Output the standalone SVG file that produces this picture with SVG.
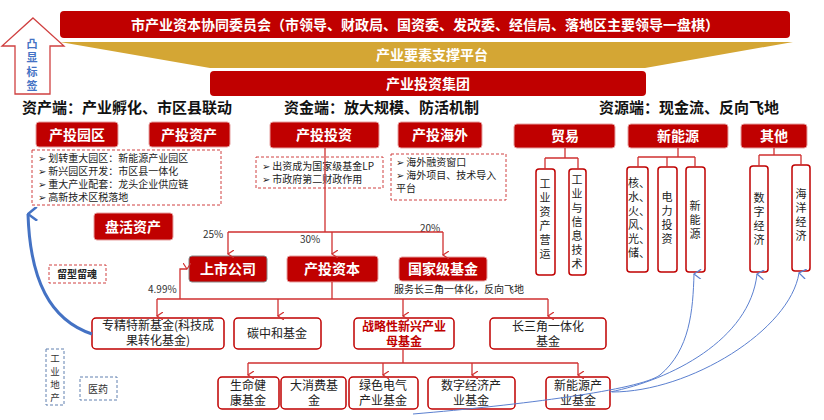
<svg xmlns="http://www.w3.org/2000/svg" width="824" height="420" viewBox="0 0 824 420">
<defs>
<style>
text{font-family:"Noto Sans CJK SC","Liberation Sans",sans-serif}
.rb{fill:#c00000;stroke:#e6a0a0;stroke-width:1}
.wt{fill:#fff;font-weight:bold;font-size:14px;text-anchor:middle}
.hd{fill:#111;font-weight:bold;font-size:15px}
.bl{fill:#222;font-size:10px}
.db{fill:none;stroke:#d04040;stroke-dasharray:3,2;stroke-width:1}
.ob{fill:#fff;stroke:#c00000;stroke-width:1.5}
.bt{fill:#222;font-size:12px;text-anchor:middle}
.vt{fill:#222;font-size:11px;text-anchor:middle}
.ln{fill:none;stroke:#d03030;stroke-width:1.3}
.bc{fill:none;stroke:#5b80d0;stroke-width:1}
</style>
<marker id="ar" markerWidth="8" markerHeight="8" refX="4" refY="6" orient="auto-start-reverse" markerUnits="userSpaceOnUse"><path d="M0,0 L4,6 L8,0" fill="none" stroke="#d03030" stroke-width="1.2"/></marker>
<marker id="ab" markerWidth="10" markerHeight="10" refX="5" refY="1" orient="auto" markerUnits="userSpaceOnUse"><path d="M0,8 L5,1 L10,8" fill="none" stroke="#5b80d0" stroke-width="1.2"/></marker>
<marker id="abb" markerWidth="14" markerHeight="14" refX="7" refY="1" orient="auto" markerUnits="userSpaceOnUse"><path d="M0,10 L7,1 L14,10" fill="none" stroke="#4472c4" stroke-width="2.5"/></marker>
</defs>

<g id="banner">
<rect x="60" y="11" width="730" height="27" rx="4" fill="#c00000"/>
<text x="425" y="30" class="wt" font-size="15">市产业资本协同委员会（市领导、财政局、国资委、发改委、经信局、落地区主要领导一盘棋）</text>
<polygon points="60,42 793,42 645,68 210,68" fill="#d4a634"/>
<text x="432" y="60" class="wt">产业要素支撑平台</text>
<rect x="210" y="71" width="436" height="25" rx="4" fill="#c00000"/>
<text x="428" y="89" class="wt">产业投资集团</text>
</g>

<g id="tag">
<polygon points="33,18 64,46 50,46 50,94 15,94 15,46 2,46" fill="#fff" stroke="#d04040" stroke-width="1.3"/>
<text x="32" y="48" fill="#4472c4" font-weight="bold" font-size="11" text-anchor="middle">凸</text>
<text x="32" y="62" fill="#4472c4" font-weight="bold" font-size="11" text-anchor="middle">显</text>
<text x="32" y="76" fill="#4472c4" font-weight="bold" font-size="11" text-anchor="middle">标</text>
<text x="32" y="90" fill="#4472c4" font-weight="bold" font-size="11" text-anchor="middle">签</text>
</g>

<g id="headers">
<text x="22" y="113" class="hd">资产端：产业孵化、市区县联动</text>
<text x="284" y="113" class="hd">资金端：放大规模、防活机制</text>
<text x="599" y="113" class="hd">资源端：现金流、反向飞地</text>
</g>

<g id="asset">
<rect x="36" y="122" width="82" height="25" rx="3" class="rb"/><text x="77" y="140" class="wt">产投园区</text>
<rect x="149" y="122" width="81" height="25" rx="3" class="rb"/><text x="189" y="140" class="wt">产投资产</text>
<rect x="32" y="150" width="189" height="55" class="db"/>
<text x="38" y="162" class="bl">➢ 划转重大园区：新能源产业园区</text>
<text x="38" y="175" class="bl">➢ 新兴园区开发：市区县一体化</text>
<text x="38" y="188" class="bl">➢ 重大产业配套：龙头企业供应链</text>
<text x="38" y="201" class="bl">➢  高新技术区税落地</text>
<rect x="94" y="213" width="79" height="27" rx="3" class="rb"/><text x="133" y="232" class="wt">盘活资产</text>
</g>

<g id="capital">
<rect x="270" y="122" width="109" height="26" rx="3" class="rb"/><text x="324" y="140" class="wt">产投投资</text>
<rect x="398" y="122" width="84" height="26" rx="3" class="rb"/><text x="440" y="140" class="wt">产投海外</text>
<rect x="256" y="157" width="127" height="31" class="db"/>
<text x="262" y="170" class="bl">➢ 出资成为国家级基金LP</text>
<text x="262" y="183" class="bl">➢ 市政府第二财政作用</text>
<rect x="391" y="154" width="115" height="46" class="db"/>
<text x="396" y="166" class="bl">➢ 海外融资窗口</text>
<text x="396" y="179" class="bl">➢ 海外项目、技术导入</text>
<text x="396" y="192" class="bl">平台</text>
</g>

<g id="l1">
<rect x="189" y="256" width="78" height="26" rx="3" fill="#c00000" stroke="#888"/><text x="228" y="274" class="wt">上市公司</text>
<rect x="287" y="256" width="91" height="26" rx="3" class="rb"/><text x="332" y="274" class="wt">产投资本</text>
<rect x="399" y="257" width="88" height="24" rx="3" class="rb"/><text x="443" y="274" class="wt">国家级基金</text>
<text x="394" y="293" fill="#222" font-size="10">服务长三角一体化，反向飞地</text>
</g>

<g id="l2">
<rect x="92" y="318" width="132" height="31" rx="4" class="ob"/><text x="158" y="330" class="bt" font-size="11">专精特新基金(科技成</text><text x="158" y="345" class="bt" font-size="11">果转化基金)</text>
<rect x="234" y="318" width="87" height="31" rx="4" class="ob"/><text x="277" y="338" class="bt">碳中和基金</text>
<rect x="354" y="318" width="100" height="31" rx="4" class="ob"/><text x="404" y="331" class="bt" style="fill:#c00000" font-weight="bold">战略性新兴产业</text><text x="404" y="346" class="bt" style="fill:#c00000" font-weight="bold">母基金</text>
<rect x="490" y="318" width="116" height="31" rx="4" class="ob"/><text x="548" y="331" class="bt">长三角一体化</text><text x="548" y="346" class="bt">基金</text>
</g>

<g id="l3">
<rect x="218" y="377" width="61" height="32" rx="4" class="ob"/><text x="248" y="390" class="bt">生命健</text><text x="248" y="405" class="bt">康基金</text>
<rect x="281" y="377" width="65" height="32" rx="4" class="ob"/><text x="314" y="390" class="bt">大消费基</text><text x="314" y="405" class="bt">金</text>
<rect x="349" y="377" width="69" height="32" rx="4" class="ob"/><text x="383" y="390" class="bt">绿色电气</text><text x="383" y="405" class="bt">产业基金</text>
<rect x="428" y="377" width="87" height="32" rx="4" class="ob"/><text x="471" y="390" class="bt">数字经济产</text><text x="471" y="405" class="bt">业基金</text>
<rect x="546" y="377" width="64" height="32" rx="4" class="ob"/><text x="578" y="390" class="bt">新能源产</text><text x="578" y="405" class="bt">业基金</text>
</g>

<g id="resource">
<rect x="514" y="124" width="101" height="24" rx="3" class="rb"/><text x="565" y="141" class="wt">贸易</text>
<rect x="628" y="124" width="100" height="24" rx="3" class="rb"/><text x="678" y="141" class="wt">新能源</text>
<rect x="741" y="124" width="66" height="24" rx="3" class="rb"/><text x="774" y="141" class="wt">其他</text>
<rect x="536" y="169" width="19" height="106" rx="3" class="ob"/>
<text class="vt"><tspan x="545" y="188">工</tspan><tspan x="545" y="202">业</tspan><tspan x="545" y="216">资</tspan><tspan x="545" y="230">产</tspan><tspan x="545" y="244">营</tspan><tspan x="545" y="258">运</tspan></text>
<rect x="569" y="169" width="17" height="106" rx="3" class="ob"/>
<text class="vt"><tspan x="577" y="184">工</tspan><tspan x="577" y="198">业</tspan><tspan x="577" y="212">与</tspan><tspan x="577" y="226">信</tspan><tspan x="577" y="240">息</tspan><tspan x="577" y="254">技</tspan><tspan x="577" y="268">术</tspan></text>
<rect x="627" y="167" width="21" height="105" rx="3" class="ob"/>
<text class="vt"><tspan x="639" y="187">核、</tspan><tspan x="639" y="201">水、</tspan><tspan x="639" y="215">火、</tspan><tspan x="639" y="229">风、</tspan><tspan x="639" y="243">光、</tspan><tspan x="639" y="257">储、</tspan></text>
<rect x="658" y="167" width="19" height="105" rx="3" class="ob"/>
<text class="vt"><tspan x="667" y="201">电</tspan><tspan x="667" y="215">力</tspan><tspan x="667" y="229">投</tspan><tspan x="667" y="243">资</tspan></text>
<rect x="686" y="167" width="19" height="105" rx="3" class="ob"/>
<text class="vt"><tspan x="695" y="210">新</tspan><tspan x="695" y="224">能</tspan><tspan x="695" y="238">源</tspan></text>
<rect x="750" y="166" width="18" height="106" rx="3" class="ob"/>
<text class="vt"><tspan x="759" y="202">数</tspan><tspan x="759" y="216">字</tspan><tspan x="759" y="230">经</tspan><tspan x="759" y="244">济</tspan></text>
<rect x="792" y="165" width="18" height="106" rx="3" class="ob"/>
<text class="vt"><tspan x="801" y="198">海</tspan><tspan x="801" y="212">洋</tspan><tspan x="801" y="226">经</tspan><tspan x="801" y="240">济</tspan></text>
</g>

<g id="labels">
<rect x="49" y="265" width="57" height="18" class="db"/><text x="77" y="278" fill="#222" font-size="10" font-weight="bold" text-anchor="middle">留型留魂</text>
<rect x="46" y="349" width="18" height="56" fill="none" stroke="#6080b0" stroke-dasharray="3,2"/>
<text fill="#333" font-size="9.5" text-anchor="middle"><tspan x="55" y="362">工</tspan><tspan x="55" y="375">业</tspan><tspan x="55" y="388">地</tspan><tspan x="55" y="401">产</tspan></text>
<rect x="80" y="377" width="37" height="23" fill="none" stroke="#6080b0" stroke-dasharray="3,2"/><text x="98" y="393" fill="#333" font-size="10" text-anchor="middle">医药</text>
<text x="203" y="238" fill="#333" font-size="10">25%</text>
<text x="300" y="243" fill="#333" font-size="10">30%</text>
<text x="420" y="232" fill="#333" font-size="10">20%</text>
<text x="148" y="293" fill="#333" font-size="10">4.99%</text>
</g>

<g id="connectors">
<path class="ln" d="M325,148 V232 M228,232 H443"/>
<path class="ln" d="M228,232 V254" marker-end="url(#ar)"/>
<path class="ln" d="M332,232 V254" marker-end="url(#ar)"/>
<path class="ln" d="M443,232 V255" marker-end="url(#ar)"/>
<path class="ln" d="M332,282 V299 M157,299 H548"/>
<path class="ln" d="M180,299 V269 H187" marker-end="url(#ar)"/>
<path class="ln" d="M157,299 V316" marker-end="url(#ar)"/>
<path class="ln" d="M278,299 V316" marker-end="url(#ar)"/>
<path class="ln" d="M403,299 V316" marker-end="url(#ar)"/>
<path class="ln" d="M548,299 V316" marker-end="url(#ar)"/>
<path class="ln" d="M403,349 V363 M248,363 H578"/>
<path class="ln" d="M248,363 V375" marker-end="url(#ar)"/>
<path class="ln" d="M383,363 V375" marker-end="url(#ar)"/>
<path class="ln" d="M472,363 V375" marker-end="url(#ar)"/>
<path class="ln" d="M578,363 V375" marker-end="url(#ar)"/>
<path class="ln" d="M565,148 V158 M545,158 H578 M545,158 V169 M578,158 V169"/>
<path class="ln" d="M678,148 V157 M638,157 H695 M638,157 V167 M667,157 V167 M695,157 V167"/>
<path class="ln" d="M774,148 V155 M759,155 H801 M759,155 V166 M801,155 V165"/>
<path d="M92,334 C50,320 30,280 28,214" fill="none" stroke="#4472c4" stroke-width="3" marker-end="url(#abb)"/>
<path class="bc" d="M413,414 C520,405 640,390 660,375 C690,350 693,310 694,274" marker-end="url(#ab)"/>
<path class="bc" d="M610,392 C670,380 750,340 757,274" marker-end="url(#ab)"/>
<path class="bc" d="M612,392 C690,392 790,330 799,273" marker-end="url(#ab)"/>
</g>
</svg>
